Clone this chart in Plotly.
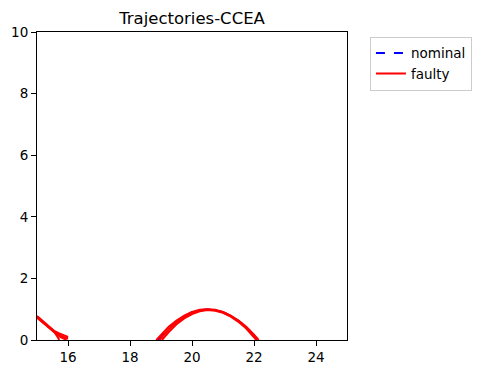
import plotly.graph_objects as go

# Nominal trajectories (blue dashed, mostly hidden beneath faulty ones)
nominal_x = [
    [15.0, 15.2, 15.4, 15.55, 15.7, 15.85, 16.0],
    [18.9, 19.0, 19.25, 19.5, 19.75, 20.0, 20.25, 20.5, 20.75, 21.0, 21.25, 21.5, 21.75, 22.0, 22.12],
]
nominal_y = [
    [0.76, 0.58, 0.41, 0.28, 0.2, 0.13, 0.08],
    [0.0, 0.12, 0.4, 0.6, 0.77, 0.9, 0.97, 0.99, 0.97, 0.9, 0.78, 0.62, 0.42, 0.15, 0.0],
]

# Faulty trajectories (red solid)
faulty_x = [
    [15.0, 15.2, 15.4, 15.55, 15.7, 15.85, 16.0],
    [15.0, 15.2, 15.4, 15.55, 15.65, 15.72],
    [15.0, 15.2, 15.4, 15.55, 15.75, 15.95],
    [15.0, 15.2, 15.4, 15.55, 15.8, 16.0],
    [18.85, 19.0, 19.25, 19.5, 19.75, 20.0, 20.25, 20.5, 20.75, 21.0, 21.25, 21.5, 21.75, 22.0, 22.15],
    [18.95, 19.25, 19.5, 19.75, 20.0, 20.25, 20.5, 20.75, 21.0, 21.25, 21.5, 21.75, 22.0, 22.1],
    [19.03, 19.25, 19.5, 19.75, 20.0, 20.25, 20.5, 20.75, 21.0, 21.25, 21.5, 21.75, 22.0, 22.07],
]
faulty_y = [
    [0.78, 0.6, 0.42, 0.3, 0.22, 0.15, 0.1],
    [0.75, 0.57, 0.4, 0.27, 0.12, 0.0],
    [0.72, 0.55, 0.38, 0.25, 0.1, 0.0],
    [0.74, 0.56, 0.39, 0.26, 0.12, 0.04],
    [0.0, 0.17, 0.43, 0.63, 0.79, 0.91, 0.98, 1.0, 0.98, 0.91, 0.79, 0.63, 0.43, 0.17, 0.0],
    [0.0, 0.35, 0.57, 0.75, 0.88, 0.96, 0.99, 0.97, 0.9, 0.78, 0.61, 0.4, 0.13, 0.0],
    [0.0, 0.26, 0.51, 0.7, 0.84, 0.93, 0.97, 0.95, 0.88, 0.76, 0.59, 0.37, 0.09, 0.0],
]

x_ticks = [16, 18, 20, 22, 24]
y_ticks = [0, 2, 4, 6, 8, 10]

fig = go.Figure()
for i, (xs, ys) in enumerate(zip(nominal_x, nominal_y)):
    fig.add_trace(go.Scatter(x=xs, y=ys, mode="lines", name="nominal",
                             line=dict(color="blue", width=2, dash="dash"),
                             showlegend=(i == 0), legendgroup="nominal"))
for i, (xs, ys) in enumerate(zip(faulty_x, faulty_y)):
    fig.add_trace(go.Scatter(x=xs, y=ys, mode="lines", name="faulty",
                             line=dict(color="red", width=2),
                             showlegend=(i == 0), legendgroup="faulty"))

axis_common = dict(showline=True, linecolor="black", linewidth=1, mirror=True,
                   ticks="outside", ticklen=5, tickwidth=1, tickcolor="black",
                   showgrid=False, zeroline=False, automargin=False,
                   tickfont=dict(family="DejaVu Sans", size=13.5, color="black"))

# page body has an 8px margin, so the figure is shrunk and margins offset
W, H = 477, 366
fig.update_layout(
    width=W, height=H,
    margin=dict(l=29, r=138, t=24, b=34, autoexpand=False),
    paper_bgcolor="white", plot_bgcolor="white",
    title=dict(text="Trajectories-CCEA", x=(29 + 339) / 2 / W, xanchor="center",
               y=1 - 10 / H, yanchor="middle",
               font=dict(family="DejaVu Sans", size=16.5, color="black")),
    xaxis=dict(range=[15, 25], tickvals=x_ticks, **axis_common),
    yaxis=dict(range=[0, 10], tickvals=y_ticks, **axis_common),
    legend=dict(x=1.074, y=0.985, xanchor="left", yanchor="top",
                bordercolor="#cccccc", borderwidth=1, bgcolor="white",
                font=dict(family="DejaVu Sans", size=13.5, color="black"),
                tracegroupgap=0),
    showlegend=True,
)

fig.write_html("out.html")
